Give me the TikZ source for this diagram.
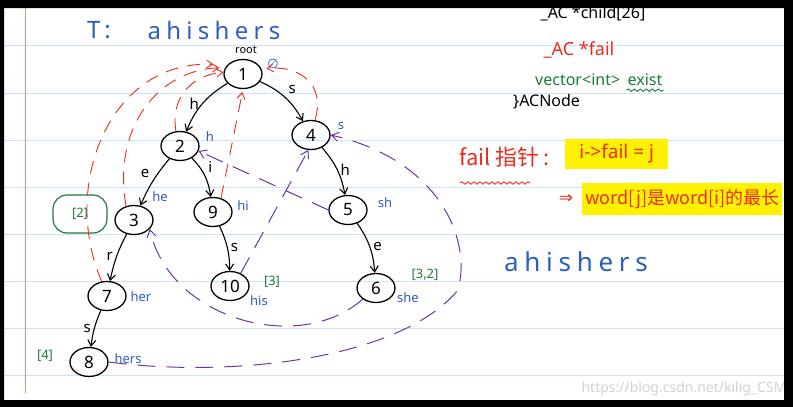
\documentclass[tikz,border=0pt]{standalone}
\usepackage{fontspec}
\setmainfont{Noto Sans}
\newfontfamily\cjk{Noto Sans CJK SC}
\newfontfamily\symb{DejaVu Sans}
\newfontfamily\spaced[LetterSpace=22]{Noto Sans}
\usepackage{tikz}
\usetikzlibrary{arrows.meta,positioning,shapes.geometric,decorations.pathmorphing}
\definecolor{inkblue}{RGB}{45,95,190}
\definecolor{inkred}{RGB}{235,45,30}
\definecolor{inkgreen}{RGB}{30,125,55}
\definecolor{inkpurple}{RGB}{105,55,165}
\definecolor{ruled}{RGB}{205,228,248}
\definecolor{margin}{RGB}{250,135,125}
\definecolor{marker}{RGB}{255,242,0}
\tikzset{
  st/.style  ={draw,ellipse,line width=1.3pt,minimum width=38pt,minimum height=29pt,
               inner sep=0pt,font=\fontsize{17}{17}\selectfont},
  tr/.style  ={line width=1.1pt,-{Straight Barb[length=6pt,width=8pt]}},
  fl/.style  ={inkred,line width=0.9pt,dash pattern=on 13pt off 9pt,
               -{Straight Barb[length=6pt,width=8pt]}},
  pf/.style  ={inkpurple,line width=1pt,dash pattern=on 18pt off 11pt,
               -{Straight Barb[length=7pt,width=9pt]}},
  el/.style  ={font=\fontsize{15}{15}\selectfont,inner sep=3pt},
  wd/.style  ={inkblue,font=\fontsize{13}{13}\selectfont,inner sep=1pt},
  hit/.style ={inkgreen,font=\fontsize{13}{13}\selectfont,inner sep=1pt},
  note/.style={font=\fontsize{16}{16}\selectfont,inner sep=1pt},
  wavy/.style={decorate,decoration={snake,amplitude=1.2pt,segment length=6pt},line width=0.9pt},
}

\begin{document}
\begin{tikzpicture}[x=1pt,y=-1pt]
\useasboundingbox (0,0) rectangle (793,407);
% notebook page
\fill[white] (0,0) rectangle (793,407);
\foreach \y in {45,93,140,187,234,281,328,375}
  \draw[ruled,line width=0.8pt] (4,\y) -- (784,\y);
\draw[margin,line width=1pt] (25,8) -- (25,393);

% title
\node[inkblue,font=\fontsize{24}{24}\selectfont] (tt) at (99,30) {T\,:};
\node[inkblue,font=\fontsize{24}{24}\selectfont\spaced] (tw) at (214,30) {ahishers};

% trie
\node[st] (n1) at (243,74) {1};
\node[st] (n2) at (180,146) {2};
\node[st] (n4) at (311,135) {4};
\node[st] (n3) at (134,220) {3};
\node[st] (n9) at (213,212) {9};
\node[st] (n5) at (348,210) {5};
\node[st] (n10) at (230,286) {10};
\node[st] (n6) at (376,288) {6};
\node[st] (n7) at (107,296) {7};
\node[st] (n8) at (89,362) {8};
\node[draw=inkgreen,line width=1.2pt,rounded corners=14pt,minimum width=54pt,minimum height=38pt,
      text=inkgreen,font=\fontsize{13}{13}\selectfont] (b2) at (80,214) {[2]};

\draw[tr] (n1) to[bend right=18] node[el,left] {h} (n2);
\draw[tr] (n1) to[bend left=18] node[el,above right] {s} (n4);
\draw[tr] (n2) to[bend right=8] node[el,above left] {e} (n3);
\draw[tr] (n2) to[bend left=18] node[el,above right] {i} (n9);
\draw[tr] (n4) to[bend left=15] node[el,right] {h} (n5);
\draw[tr] (n3) to[bend right=8] node[el,left] {r} (n7);
\draw[tr] (n9) to[bend left=12] node[el,right] {s} (n10);
\draw[tr] (n5) to[bend left=15] node[el,right] {e} (n6);
\draw[tr] (n7) to[bend right=8] node[el,left] {s} (n8);

% labels
\node[note,font=\fontsize{11}{11}\selectfont] (rt) at (246,50) {root};
\node[wd,font=\fontsize{13}{13}\selectfont\symb] at (273,64) {∅};
\node[wd] at (210,137) {h};
\node[wd] at (341,126) {s};
\node[wd] at (160,197) {he};
\node[wd] at (243,206) {hi};
\node[wd] at (385,203) {sh};
\node[wd] at (141,297) {her};
\node[wd] at (259,301) {his};
\node[wd] at (408,298) {she};
\node[wd] at (128,359) {hers};
\node[hit] at (272,282) {[3]};
\node[hit] at (425,275) {[3,2]};
\node[hit] at (45,356) {[4]};

% fail pointers to root
\draw[fl,shorten >=14pt] (n7.110) .. controls (60,185) and (110,60) .. (n1.150);
\draw[fl,shorten >=6pt] (n3.120) .. controls (112,125) and (160,70) .. (n1.160);
\draw[fl] (n2.105) .. controls (170,100) and (190,75) .. (n1.175);
\draw[fl,shorten >=3pt] (n9.60) -- (n1.south);
\draw[fl,shorten >=5pt] (n4.75) .. controls (326,85) and (300,65) .. (n1.15);

% other fail pointers
\draw[pf] (n5.west) -- (n2.-15);
\draw[pf] (n10.50) -- (n4.-100);
\draw[pf] (n6.220) .. controls (300,355) and (170,320) .. (n3.-30);
\draw[pf] (n8.east) .. controls (230,378) and (400,360) .. (458,290)
          .. controls (472,240) and (440,160) .. (n4.east);

% node struct
\node[note] (ch) at (593,14) {\_AC *child[26]};
\node[note,inkred,font=\fontsize{18}{18}\selectfont] (fp) at (579,50) {\_AC *fail};
\node[note,inkgreen,anchor=west] (vi) at (534,80) {vector<int>};
\node[note,inkgreen,right=5pt of vi] (ex) {exist};
\draw[inkgreen,wavy] ([yshift=-3pt]ex.south west) -- ([yshift=-3pt]ex.south east);
\node[note,anchor=west] (an) at (512,102) {\}ACNode};

% fail meaning
\node[inkred,font=\fontsize{22}{22}\selectfont\cjk,anchor=west] (fz) at (456,157) {fail 指针\,:};
\draw[inkred,wavy] (460,183) -- (530,183);
\node[fill=marker,text=inkred,font=\fontsize{19}{19}\selectfont,minimum height=30pt,
      minimum width=103pt,anchor=west] (ij) at (565,154) {i->fail = j};
\node[inkred,font=\fontsize{17}{17}\selectfont\symb] (im) at (566,199) {⇒};
\node[fill=marker,text=inkred,font=\fontsize{18}{18}\selectfont\cjk,minimum height=32pt,
      inner xsep=3pt,anchor=west] (wj) at (582,199) {word[j]是word[i]的最长};
\node[inkblue,font=\fontsize{26}{26}\selectfont\spaced] (aw) at (576,262) {ahishers};

% watermark
\node[gray!35,font=\fontsize{14}{14}\selectfont,anchor=east] (wm) at (790,389) {https://blog.csdn.net/kilig\_CSM};

% screen frame
\fill[black,even odd rule] (0,0) rectangle (793,407) (4,8) rectangle (784,400);
\end{tikzpicture}
\end{document}
